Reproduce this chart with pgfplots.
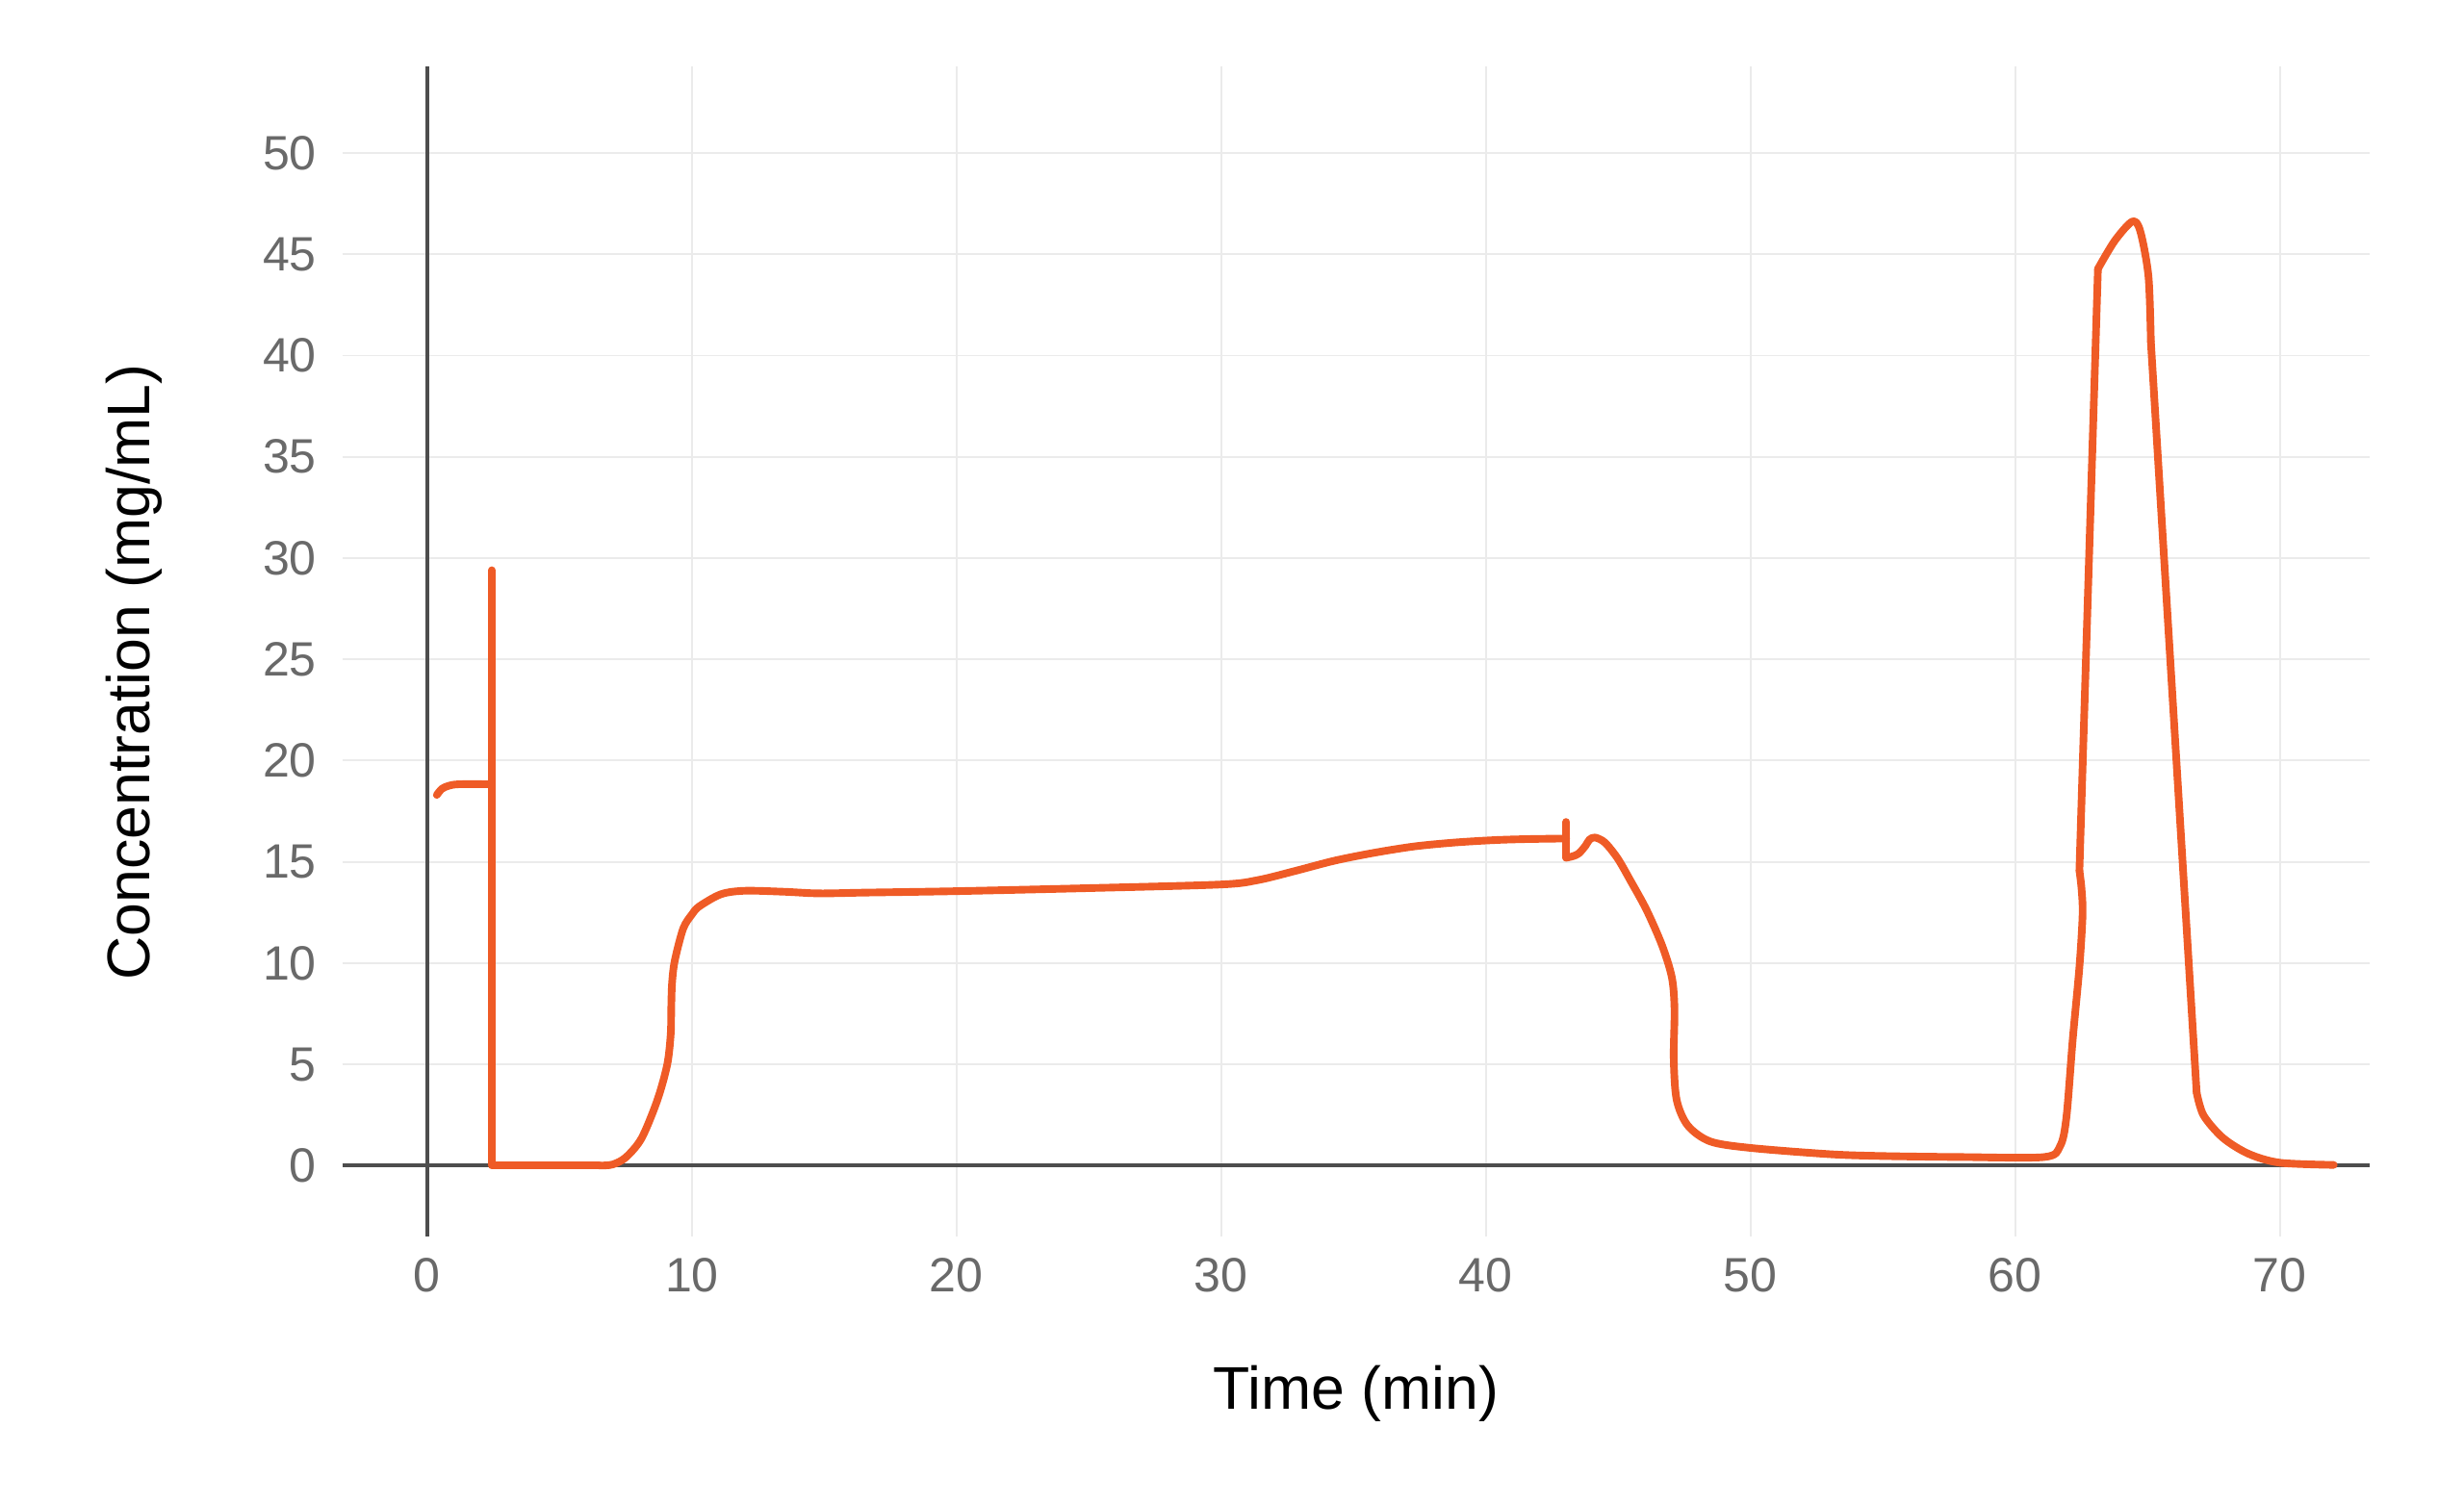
\documentclass[border=0pt]{standalone}
\usepackage{pgfplots}
\pgfplotsset{compat=1.18}
\usepackage{fontspec}
\setmainfont{Liberation Sans}
\definecolor{curve}{RGB}{239,91,38}
\definecolor{gridc}{RGB}{235,235,235}
\definecolor{axc}{RGB}{77,77,77}
\definecolor{tickc}{RGB}{105,105,105}
\begin{document}
\begin{tikzpicture}
\path[fill=white] (-65.4pt,-51pt) rectangle (405pt,236.1pt);
\begin{axis}[
  at={(0,0)}, anchor=south west,
  scale only axis, width=387pt, height=223.5pt,
  xmin=-3.2, xmax=73.4, ymin=-3.5, ymax=54.3,
  axis line style={draw=none},
  tick style={draw=none},
  xtick={0,10,...,70}, ytick={0,5,...,50},
  grid=major,
  major grid style={gridc, line width=0.35pt},
  /pgf/number format/assume math mode=true,
  font=\fontsize{9.2}{11}\selectfont,
  xticklabel style={anchor=center, yshift=-7.5pt, text=tickc, inner sep=0pt},
  yticklabel style={anchor=east, xshift=-4.8pt, text=tickc, inner sep=0pt},
  xlabel={Time (min)},
  ylabel={Concentration (mg/mL)},
  xlabel style={at={(axis description cs:0.5,-0.134)}, anchor=center, font=\fontsize{11.5}{13}\selectfont},
  ylabel style={at={(axis description cs:-0.103,0.482)}, anchor=center, rotate=0, font=\fontsize{11.5}{13}\selectfont},
  clip=false,
  no markers,
  every axis plot/.append style={curve, solid, line width=1.45pt, line join=round, line cap=round},
]
\addplot[axc, line width=0.75pt, line cap=butt, forget plot] coordinates {(-3.2,0) (73.4,0)};
\addplot[axc, line width=0.75pt, line cap=butt, forget plot] coordinates {(0,-3.5) (0,54.3)};
% start segment
\addplot[smooth, tension=0.5] coordinates {(0.36,18.3) (0.55,18.6) (0.8,18.75) (1.2,18.83) (2.44,18.83)};
\addplot[sharp plot] coordinates {(2.44,18.83) (2.44,29.4) (2.44,0) (6.5,0)};
% first broad rise and plateau
\addplot[smooth, tension=0.5] coordinates {
(6.5,0) (7.0,0.05) (7.5,0.4) (8.1,1.35) (8.7,3.25) (9.07,5.0) (9.2,6.5) (9.22,7.8)
(9.25,9.0) (9.35,10.1) (9.67,11.7) (10.0,12.4) (10.28,12.8) (11.1,13.4) (12.0,13.57)
(13.5,13.52) (14.8,13.44) (16.6,13.48) (20,13.55) (25,13.7) (30,13.88) (31.4,14.1)
(32.8,14.55) (34.3,15.06) (35.8,15.45) (37.3,15.76) (38.8,15.95) (40.3,16.07)
(41.5,16.12) (43.04,16.15)};
\addplot[sharp plot] coordinates {(43.04,16.15) (43.04,16.97) (43.04,15.2)};
% hump, fall and low plateau
\addplot[smooth, tension=0.5] coordinates {
(43.04,15.2) (43.3,15.28) (43.52,15.42)
(43.77,15.8) (43.92,16.1) (44.13,16.2) (44.5,15.95) (44.98,15.17) (45.47,14.06)
(46.07,12.63) (46.66,10.87) (47.03,9.29) (47.13,7.7) (47.1,5.3) (47.21,3.25)
(47.63,1.98) (48.48,1.19) (50,0.87) (53,0.56) (55,0.47) (58,0.42) (61.1,0.42)
(61.7,0.96) (61.94,2.4) (62.18,6.27) (62.43,9.8) (62.55,12.4) (62.51,13.67)
(62.43,14.57)};
\addplot[sharp plot] coordinates {(62.43,14.57) (63.13,44.28)};
% peak cap
\addplot[smooth, tension=0.5] coordinates {(63.13,44.28) (63.76,45.66) (64.43,46.62) (64.73,46.14) (65.04,43.9) (65.13,40.68)};
\addplot[sharp plot] coordinates {(65.13,40.68) (66.86,3.6)};
% tail
\addplot[smooth, tension=0.5] coordinates {(66.86,3.6) (67.12,2.48) (67.85,1.37) (68.82,0.58) (70,0.14) (72.04,0.03)};
\end{axis}
\end{tikzpicture}
\end{document}
